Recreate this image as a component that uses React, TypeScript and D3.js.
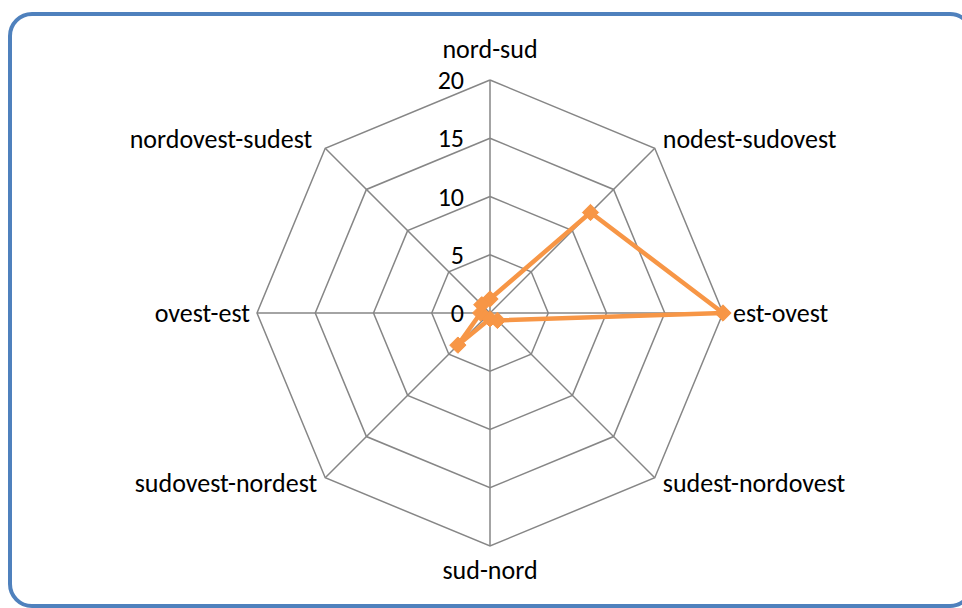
import {useEffect, useRef} from "react";
import * as d3 from "d3";

const categories = [
  "nord-sud",
  "nodest-sudovest",
  "est-ovest",
  "sudest-nordovest",
  "sud-nord",
  "sudovest-nordest",
  "ovest-est",
  "nordovest-sudest",
];
const values = [1.2, 12.2, 20, 0.9, 0.5, 3.9, 0.8, 1];
const ticks = [0, 5, 10, 15, 20];

export default function App() {
  const svgRef = useRef<SVGSVGElement>(null);

  useEffect(() => {
    if (!svgRef.current) return;
    const width = 962;
    const height = 608;
    const cx = 490;
    const cy = 313;
    const radius = 233;

    const svg = d3.select(svgRef.current);
    svg.selectAll("*").remove();

    // cornice arrotondata
    svg
      .append("rect")
      .attr("x", 10)
      .attr("y", 14)
      .attr("width", 962)
      .attr("height", 592)
      .attr("rx", 22)
      .attr("fill", "white")
      .attr("stroke", "#4F81BD")
      .attr("stroke-width", 4);

    const r = d3.scaleLinear().domain([0, 20]).range([0, radius]);
    const n = categories.length;
    const angle = (i: number) => (i * 2 * Math.PI) / n;
    const pt = (i: number, v: number): [number, number] => [
      cx + r(v) * Math.sin(angle(i)),
      cy - r(v) * Math.cos(angle(i)),
    ];

    const g = svg.append("g");

    // griglia
    ticks.slice(1).forEach((t) => {
      const pts = categories.map((_, i) => pt(i, t));
      g.append("path")
        .attr("d", d3.line()([...pts, pts[0]]))
        .attr("fill", "none")
        .attr("stroke", "#868686")
        .attr("stroke-width", 1.5);
    });
    categories.forEach((_, i) => {
      const [x, y] = pt(i, 20);
      g.append("line")
        .attr("x1", cx)
        .attr("y1", cy)
        .attr("x2", x)
        .attr("y2", y)
        .attr("stroke", "#868686")
        .attr("stroke-width", 1.5);
    });

    const font = "Carlito, Calibri, 'Open Sans', sans-serif";
    const fontSize = "26px";

    // etichette scala
    ticks.forEach((t) => {
      g.append("text")
        .attr("x", cx - 26)
        .attr("y", cy - r(t))
        .attr("dy", "0.35em")
        .attr("text-anchor", "end")
        .style("font-family", font)
        .style("font-size", fontSize)
        .text(t);
    });

    // serie
    const pts = values.map((v, i) => pt(i, v));
    g.append("path")
      .attr("d", d3.line()([...pts, pts[0]]))
      .attr("fill", "none")
      .attr("stroke", "#F79646")
      .attr("stroke-width", 4.5)
      .attr("stroke-linejoin", "round");
    g.selectAll(".marker")
      .data(pts)
      .enter()
      .append("path")
      .attr("class", "marker")
      .attr("transform", (d) => `translate(${d[0]},${d[1]})`)
      .attr("d", d3.symbol(d3.symbolDiamond2, 170)())
      .attr("fill", "#F79646")
      .attr("stroke", "#F79646")
      .attr("stroke-width", 1);

    // etichette categorie
    categories.forEach((c, i) => {
      const [x, y] = pt(i, 20);
      const s = Math.sin(angle(i));
      const co = Math.cos(angle(i));
      let anchor = "middle";
      let tx = x;
      let ty = y;
      let dy = "0em";
      if (Math.abs(s) < 0.01) {
        ty = co > 0 ? y - 22 : y + 33;
      } else {
        anchor = s > 0 ? "start" : "end";
        if (Math.abs(co) < 0.01) {
          tx = s > 0 ? x + 10 : x - 7;
          dy = "0.35em";
        } else if (co > 0) {
          tx = s > 0 ? x + 8 : x - 13;
          ty = y;
        } else {
          tx = s > 0 ? x + 8 : x - 8;
          ty = y + 14;
        }
      }
      g.append("text")
        .attr("x", tx)
        .attr("y", ty)
        .attr("dy", dy)
        .attr("text-anchor", anchor)
        .style("font-family", font)
        .style("font-size", fontSize)
        .text(c);
    });

    svg.attr("width", width).attr("height", height);
  }, []);

  return (
    <svg
      ref={svgRef}
      width={962}
      height={608}
      style={{position: "absolute", left: 0, top: 0, display: "block"}}
    />
  );
}
